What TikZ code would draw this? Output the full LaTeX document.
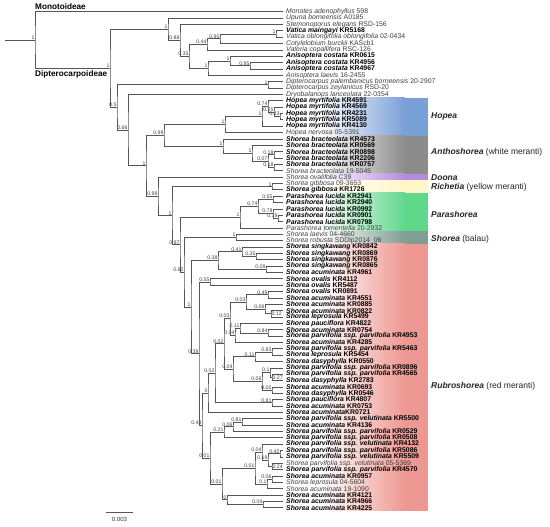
\documentclass[tikz,border=0pt]{standalone}
\usepackage{fontspec}
\setmainfont{Liberation Sans}
\usetikzlibrary{calc}

\definecolor{hopeac}{RGB}{122,160,216}
\definecolor{anthoc}{RGB}{140,140,140}
\definecolor{doonac}{RGB}{180,140,222}
\definecolor{richc}{RGB}{255,247,200}
\definecolor{parac}{RGB}{96,216,140}
\definecolor{balauc}{RGB}{128,158,148}
\definecolor{rubroc}{RGB}{238,152,146}
\definecolor{brc}{RGB}{85,85,85}

\newcommand\sps[2]{\textcolor{black!75}{\textit{#1} #2}}
\newcommand\bsps[2]{\textbf{\textit{#1} #2}}
\newcommand\tipn[3]{%
  \coordinate (#1) at (283,{11.7+(#2-1)*6.36});
  \node[tiplab] (#1-l) at (286,{11.7+(#2-1)*6.36}) {#3};}
\newcommand\inode[6][nlab]{%
  \path let \p1=(#4), \p2=(#5) in coordinate (#2) at ({#3pt},{0.5*\y1+0.5*\y2});
  \draw[br] (#4) -| (#2) |- (#5);
  \node[#1] (#2-l) at (#2) {#6};}
\newcommand\band[3]{%
  \shade[left color=white,right color=#1] (320,#2) rectangle (405,#3);
  \fill[#1] (404.6,#2) rectangle (428,#3);}

\begin{document}
\begin{tikzpicture}[x=1pt,y=-1pt,
  br/.style={draw=brc,line width=0.7pt},
  tiplab/.style={anchor=west,inner sep=0pt,font=\fontsize{6.85}{7}\selectfont},
  nlab/.style={anchor=south east,inner sep=0.4pt,font=\fontsize{5.2}{5.2}\selectfont,text=black!75},
  blab/.style={anchor=west,inner sep=0.4pt,font=\fontsize{5.2}{5.2}\selectfont,text=black!75},
  clab/.style={anchor=west,inner sep=0pt,font=\fontsize{8.5}{9}\selectfont,text=black!85},
]
\useasboundingbox (0,0) rectangle (550,527);
\fill[white] (0,0) rectangle (550,527);

% coloured bands
\band{hopeac}{97.56}{135.72}
\band{anthoc}{135.72}{173.88}
\band{doonac}{173.88}{180.24}
\band{richc}{180.24}{192.96}
\band{parac}{192.96}{231.12}
\band{balauc}{231.12}{243.84}
\band{rubroc}{243.84}{510.96}

% tips
\tipn{t1}{1}{\sps{Monotes adenophyllus}{598}}
\tipn{t2}{2}{\sps{Upuna borneensis}{A0185}}
\tipn{t3}{3}{\sps{Stemonoporus elegans}{RSD-156}}
\tipn{t4}{4}{\bsps{Vatica maingayi}{KR5168}}
\tipn{t5}{5}{\sps{Vatica oblongifolia oblongifolia}{02-0434}}
\tipn{t6}{6}{\sps{Cotylelobium burckii}{KAScb1}}
\tipn{t7}{7}{\sps{Vateria copallifera}{RSC-126}}
\tipn{t8}{8}{\bsps{Anisoptera costata}{KR0615}}
\tipn{t9}{9}{\bsps{Anisoptera costata}{KR4956}}
\tipn{t10}{10}{\bsps{Anisoptera costata}{KR4967}}
\tipn{t11}{11}{\sps{Anisoptera laevis}{16-2455}}
\tipn{t12}{12}{\sps{Dipterocarpus palembanicus borneensis}{20-2907}}
\tipn{t13}{13}{\sps{Dipterocarpus zeylanicus}{RSD-20}}
\tipn{t14}{14}{\sps{Dryobalanops lanceolata}{22-0354}}
\tipn{t15}{15}{\bsps{Hopea myrtifolia}{KR4591}}
\tipn{t16}{16}{\bsps{Hopea myrtifolia}{KR4569}}
\tipn{t17}{17}{\bsps{Hopea myrtifolia}{KR4231}}
\tipn{t18}{18}{\bsps{Hopea myrtifolia}{KR5089}}
\tipn{t19}{19}{\bsps{Hopea myrtifolia}{KR4130}}
\tipn{t20}{20}{\sps{Hopea nervosa}{05-5391}}
\tipn{t21}{21}{\bsps{Shorea bracteolata}{KR4573}}
\tipn{t22}{22}{\bsps{Shorea bracteolata}{KR0569}}
\tipn{t23}{23}{\bsps{Shorea bracteolata}{KR0898}}
\tipn{t24}{24}{\bsps{Shorea bracteolata}{KR2206}}
\tipn{t25}{25}{\bsps{Shorea bracteolata}{KR0757}}
\tipn{t26}{26}{\sps{Shorea bracteolata}{19-5045}}
\tipn{t27}{27}{\sps{Shorea ovalifolia}{C39}}
\tipn{t28}{28}{\sps{Shorea gibbosa}{09-3653}}
\tipn{t29}{29}{\bsps{Shorea gibbosa}{KR1726}}
\tipn{t30}{30}{\bsps{Parashorea lucida}{KR2941}}
\tipn{t31}{31}{\bsps{Parashorea lucida}{KR2940}}
\tipn{t32}{32}{\bsps{Parashorea lucida}{KR0992}}
\tipn{t33}{33}{\bsps{Parashorea lucida}{KR0901}}
\tipn{t34}{34}{\bsps{Parashorea lucida}{KR0798}}
\tipn{t35}{35}{\sps{Parashorea tomentella}{20-2932}}
\tipn{t36}{36}{\sps{Shorea laevis}{04-4660}}
\tipn{t37}{37}{\sps{Shorea robusta}{SDDlp2014\_06}}
\tipn{t38}{38}{\bsps{Shorea singkawang}{KR0842}}
\tipn{t39}{39}{\bsps{Shorea singkawang}{KR0869}}
\tipn{t40}{40}{\bsps{Shorea singkawang}{KR0876}}
\tipn{t41}{41}{\bsps{Shorea singkawang}{KR0865}}
\tipn{t42}{42}{\bsps{Shorea acuminata}{KR4961}}
\tipn{t43}{43}{\bsps{Shorea ovalis}{KR4112}}
\tipn{t44}{44}{\bsps{Shorea ovalis}{KR5487}}
\tipn{t45}{45}{\bsps{Shorea ovalis}{KR0891}}
\tipn{t46}{46}{\bsps{Shorea acuminata}{KR4551}}
\tipn{t47}{47}{\bsps{Shorea acuminata}{KR0885}}
\tipn{t48}{48}{\bsps{Shorea acuminata}{KR0822}}
\tipn{t49}{49}{\bsps{Shorea leprosula}{KR5499}}
\tipn{t50}{50}{\bsps{Shorea pauciflora}{KR4822}}
\tipn{t51}{51}{\bsps{Shorea acuminata}{KR0754}}
\tipn{t52}{52}{\bsps{Shorea parvifolia ssp. parvifolia}{KR4953}}
\tipn{t53}{53}{\bsps{Shorea acuminata}{KR4285}}
\tipn{t54}{54}{\bsps{Shorea parvifolia ssp. parvifolia}{KR5463}}
\tipn{t55}{55}{\bsps{Shorea leprosula}{KR5454}}
\tipn{t56}{56}{\bsps{Shorea dasyphylla}{KR0550}}
\tipn{t57}{57}{\bsps{Shorea parvifolia ssp. parvifolia}{KR0896}}
\tipn{t58}{58}{\bsps{Shorea parvifolia ssp. parvifolia}{KR4565}}
\tipn{t59}{59}{\bsps{Shorea dasyphylla}{KR2783}}
\tipn{t60}{60}{\bsps{Shorea acuminata}{KR0693}}
\tipn{t61}{61}{\bsps{Shorea dasyphylla}{KR0546}}
\tipn{t62}{62}{\bsps{Shorea pauciflora}{KR4807}}
\tipn{t63}{63}{\bsps{Shorea acuminata}{KR0753}}
\tipn{t64}{64}{\textbf{\textit{Shorea acuminata}KR0721}}
\tipn{t65}{65}{\bsps{Shorea parvifolia ssp. velutinata}{KR5500}}
\tipn{t66}{66}{\bsps{Shorea acuminata}{KR4136}}
\tipn{t67}{67}{\bsps{Shorea parvifolia ssp. parvifolia}{KR0529}}
\tipn{t68}{68}{\bsps{Shorea parvifolia ssp. parvifolia}{KR0508}}
\tipn{t69}{69}{\bsps{Shorea parvifolia ssp. velutinata}{KR4132}}
\tipn{t70}{70}{\bsps{Shorea parvifolia ssp. parvifolia}{KR5086}}
\tipn{t71}{71}{\bsps{Shorea parvifolia ssp. velutinata}{KR5509}}
\tipn{t72}{72}{\sps{Shorea parvifolia ssp. velutinata}{05-5369}}
\tipn{t73}{73}{\bsps{Shorea parvifolia ssp. parvifolia}{KR4570}}
\tipn{t74}{74}{\bsps{Shorea acuminata}{KR0957}}
\tipn{t75}{75}{\sps{Shorea leprosula}{04-5604}}
\tipn{t76}{76}{\sps{Shorea acuminata}{19-1090}}
\tipn{t77}{77}{\bsps{Shorea acuminata}{KR4121}}
\tipn{t78}{78}{\bsps{Shorea acuminata}{KR4966}}
\tipn{t79}{79}{\bsps{Shorea acuminata}{KR4225}}

% internal nodes
\inode{G}{276}{t4}{t5}{1}
\inode{F}{220}{G}{t6}{0.95}
\inode{D}{207}{F}{t7}{0.44}
\inode{J}{250}{t9}{t10}{0.95}
\inode{I}{230}{t8}{J}{1}
\inode{H}{208}{I}{t11}{1}
\inode{C}{189}{D}{H}{0.35}
\inode{B}{180}{t3}{C}{0.88}
\inode{A}{168}{t2}{B}{1}
\inode{Dip}{268}{t12}{t13}{1}
\inode{R3}{280}{t17}{t18}{0.43}
\inode{R2}{274}{t16}{R3}{0.25}
\inode{R1}{268}{t15}{R2}{0.74}
\inode{R}{262}{R1}{t19}{1}
\inode{Q}{225}{R}{t20}{1}
\inode{V}{274}{t23}{t24}{0.18}
\inode{W}{274}{t25}{t26}{0.18}
\inode{U}{268}{V}{W}{0.07}
\inode{T}{252}{t22}{U}{1}
\inode{S}{223}{t21}{T}{1}
\inode{N}{164}{Q}{S}{0.99}
\inode{Gib}{272}{t28}{t29}{1}
\inode{PBa}{273}{t30}{t31}{0.55}
\inode{PD}{278}{t33}{t34}{0.39}
\inode{PC}{273}{t32}{PD}{0.78}
\inode{PB}{258}{PBa}{PC}{0.74}
\inode{PA}{240}{PB}{t35}{1}
\inode{SB}{236}{t36}{t37}{1}
\inode{sA}{256}{t39}{t40}{0.35}
\inode{sB}{242}{t38}{sA}{0.41}
\inode{sC}{266}{t41}{t42}{0.09}
\inode{sD}{218}{sB}{sC}{0.38}
\inode{oA}{210}{t43}{t44}{0.55}
\inode{oB}{268}{t45}{t46}{0.49}
\inode[blab]{aA}{271}{t48}{t49}{0.12}
\inode{aB}{265}{t47}{aA}{0.06}
\inode{aC}{246}{oB}{aB}{0.03}
\inode{aD}{268}{t51}{t52}{0.84}
\inode{aE}{240}{t50}{aD}{0.11}
\inode{aF}{235}{aE}{t53}{0.04}
\inode{aG}{230}{aC}{aF}{0.03}
\inode{cA}{272}{t54}{t55}{0.83}
\inode{cB}{255}{cA}{t56}{0.11}
\inode[blab]{cC}{272}{t58}{t59}{0.27}
\inode{cD}{270}{t57}{cC}{0.1}
\inode{cE}{272}{t60}{t61}{0.02}
\inode{cF}{262}{cD}{cE}{0.06}
\inode{cG}{233}{cB}{cF}{0.04}
\inode{dA}{224}{aG}{cG}{0.02}
\inode{dB}{272}{t62}{t63}{0.81}
\inode{dC}{215}{dA}{dB}{0.02}
\inode{dD}{208}{dC}{t64}{0}
\inode{fA}{242}{t65}{t66}{0.81}
\inode{fB}{233}{fA}{t67}{0.06}
\inode{fC}{224}{fB}{t68}{0.21}
\inode{gA}{280}{t70}{t71}{0.42}
\inode[blab]{gB}{272}{t72}{t73}{0.24}
\inode{gC}{268}{gA}{gB}{0.19}
\inode{gD}{262}{t69}{gC}{0.04}
\inode{hA}{272}{t74}{t75}{0.06}
\inode{hB}{267}{hA}{t76}{0.1}
\inode{hC}{255}{gD}{hB}{0.01}
\inode{iA}{263}{t78}{t79}{0.04}
\inode{iB}{227}{t77}{iA}{0}
\inode{jA}{222}{hC}{iB}{0.01}
\inode{kA}{210}{fC}{jA}{0.01}
\inode{LA}{202}{dD}{kA}{0.48}
\inode{LB}{199}{oA}{LA}{0.39}
\inode{Z2}{191}{sD}{LB}{1}
\inode{Z}{184}{SB}{Z2}{0.92}
\inode{Y}{180}{PA}{Z}{0.97}
\inode{X}{172}{Gib}{Y}{1}
\inode{P}{158}{t27}{X}{0.99}
\inode{M}{146}{N}{P}{1}
\inode{Ln}{128}{t14}{M}{0.66}
\inode{K}{117}{Dip}{Ln}{0.5}
\inode{DP}{110}{A}{K}{1}
\inode{root}{35}{t1}{DP}{1}

\coordinate (stemx) at (5,0);
\draw[br] (root) -- (root -| stemx);

\node[anchor=south west,inner sep=0pt,font=\bfseries\fontsize{8.2}{9}\selectfont] (monot) at (35,10) {Monotoideae};
\node[anchor=north west,inner sep=0pt,font=\bfseries\fontsize{8.2}{9}\selectfont] (dipt) at (35,70) {Dipterocarpoideae};

% clade labels
\node[clab] (hopea) at (431,116) {\textbf{\textit{Hopea}}};
\node[clab] (antho) at (431,152) {\textbf{\textit{Anthoshorea}} (white meranti)};
\node[clab] (doona) at (431,177.5) {\textbf{\textit{Doona}}};
\node[clab] (rich) at (431,187.8) {\textbf{\textit{Richetia}} (yellow meranti)};
\node[clab] (para) at (431,214) {\textbf{\textit{Parashorea}}};
\node[clab] (balau) at (431,239) {\textbf{\textit{Shorea}} (balau)};
\node[clab] (rubro) at (431,386) {\textbf{\textit{Rubroshorea}} (red meranti)};

% scale bar
\coordinate (sbA) at (106,512);
\coordinate (sbB) at (133,512);
\draw[br] (sbA) -- (sbB);
\node[inner sep=0pt,font=\fontsize{6}{6}\selectfont,text=black!80] (sbl) at (119.5,519) {0.003};
\end{tikzpicture}
\end{document}
